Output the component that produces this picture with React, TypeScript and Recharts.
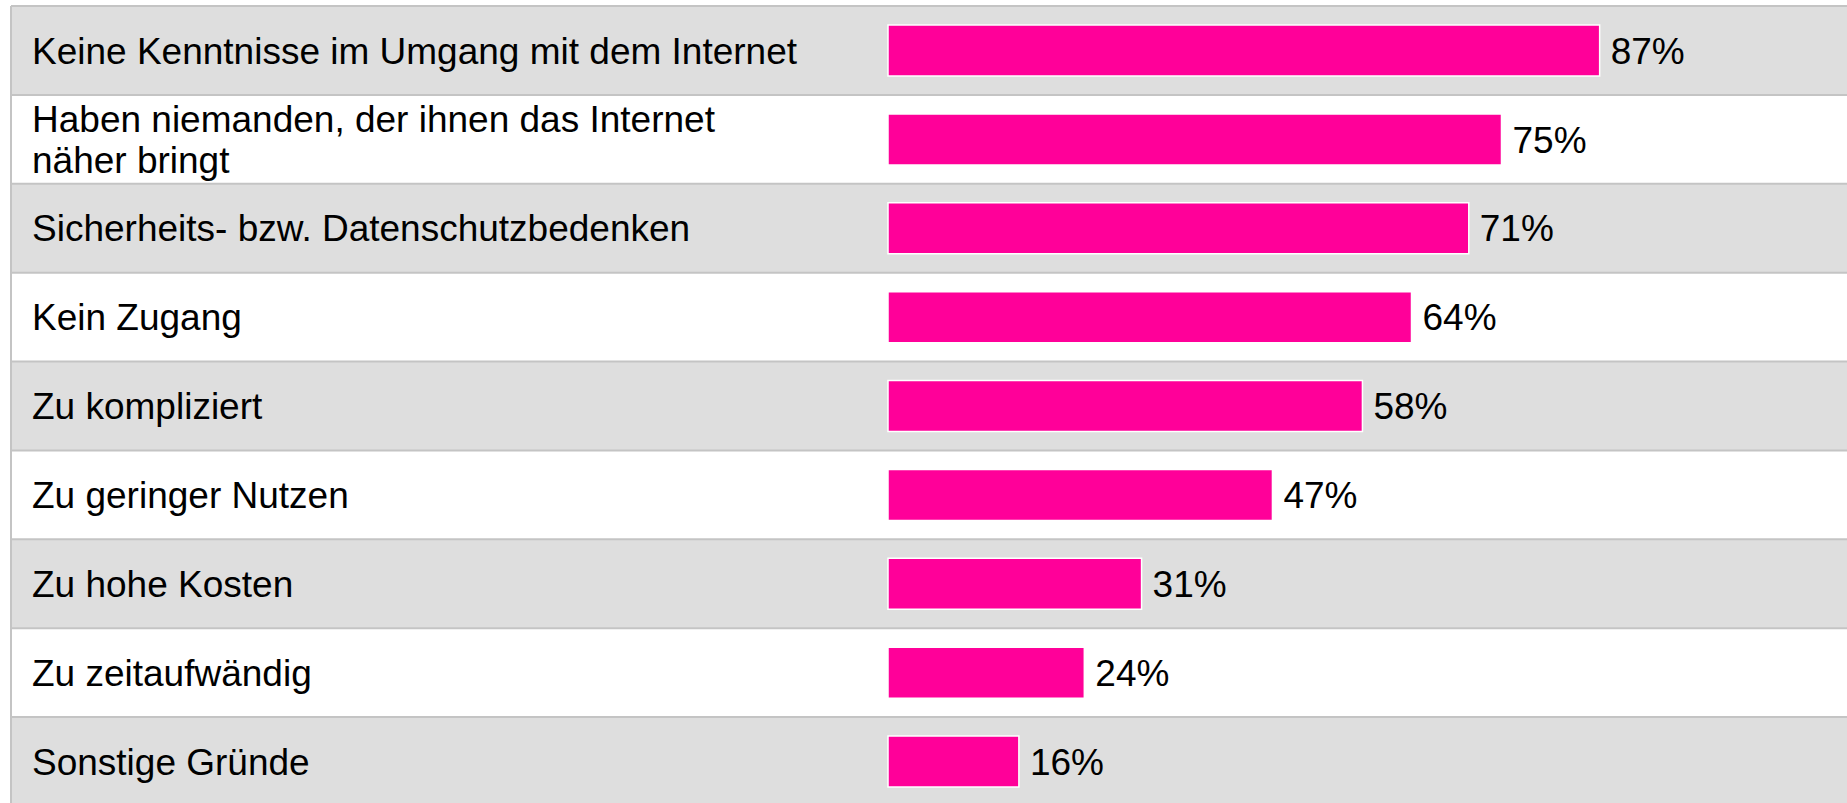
import React from "react";
import { BarChart, Bar, XAxis, YAxis, CartesianGrid, LabelList } from "recharts";

// Gründe für Nichtnutzung des Internets (Anteil in %)
const CATEGORIES = [
  "Keine Kenntnisse im Umgang mit dem Internet",
  "Haben niemanden, der ihnen das Internet\nnäher bringt",
  "Sicherheits- bzw. Datenschutzbedenken",
  "Kein Zugang",
  "Zu kompliziert",
  "Zu geringer Nutzen",
  "Zu hohe Kosten",
  "Zu zeitaufwändig",
  "Sonstige Gründe",
];
const VALUES = [87, 75, 71, 64, 58, 47, 31, 24, 16];

const FONT = '"Liberation Sans", Arial, Helvetica, sans-serif';
const FONT_SIZE = 37;
const LINE_HEIGHT = 41;
const LABEL_X = 32;
const PINK = "#ff0099";
const ROW_GRAY = "#dedede";
const LINE_GRAY = "#c4c4c4";

const chartData = CATEGORIES.map((label, i) => ({ label, value: VALUES[i] }));

const CategoryTick = ({ y, payload }: any) => {
  const lines = String(payload.value).split("\n");
  const firstDy = -((lines.length - 1) / 2) * LINE_HEIGHT + FONT_SIZE * 0.355;
  return (
    <text
      x={LABEL_X}
      y={y}
      fill="#000000"
      fontSize={FONT_SIZE}
      fontFamily={FONT}
      textAnchor="start"
    >
      {lines.map((line, i) => (
        <tspan key={i} x={LABEL_X} dy={i === 0 ? firstDy : LINE_HEIGHT}>
          {line}
        </tspan>
      ))}
    </text>
  );
};

export default function App() {
  return (
    <div
      style={{
        position: "fixed",
        left: 0,
        top: 0,
        width: 1847,
        height: 803,
        overflow: "hidden",
        background: "#ffffff",
      }}
    >
      <style>{"html,body{margin:0;padding:0;overflow:hidden;}"}</style>
      <BarChart
        width={1847}
        height={806}
        data={chartData}
        layout="vertical"
        margin={{ top: 6, right: 141, bottom: 0, left: 11 }}
      >
        {/* alternating row stripes across the full width, with separators */}
        <CartesianGrid
          x={11}
          width={1836}
          horizontalCoordinatesGenerator={({ offset }: any) =>
            CATEGORIES.map((_, i) => offset.top + (i * offset.height) / CATEGORIES.length)
          }
          vertical={false}
          horizontalFill={[ROW_GRAY, "#ffffff"]}
          stroke={LINE_GRAY}
          strokeWidth={2}
        />
        {/* left border of the table */}
        <CartesianGrid
          x={11}
          width={1836}
          horizontal={false}
          verticalPoints={[11]}
          stroke={LINE_GRAY}
          strokeWidth={2}
        />
        <XAxis type="number" domain={[0, 100]} hide />
        <YAxis
          type="category"
          dataKey="label"
          width={877}
          axisLine={false}
          tickLine={false}
          interval={0}
          tick={<CategoryTick />}
        />
        <Bar
          dataKey="value"
          fill={PINK}
          stroke="#ffffff"
          strokeWidth={1.5}
          barSize={51}
          isAnimationActive={false}
        >
          <LabelList
            dataKey="value"
            position="right"
            offset={11}
            formatter={(v: any) => `${v}%`}
            fill="#000000"
            stroke="none"
            fontSize={FONT_SIZE}
            fontFamily={FONT}
          />
        </Bar>
      </BarChart>
    </div>
  );
}
